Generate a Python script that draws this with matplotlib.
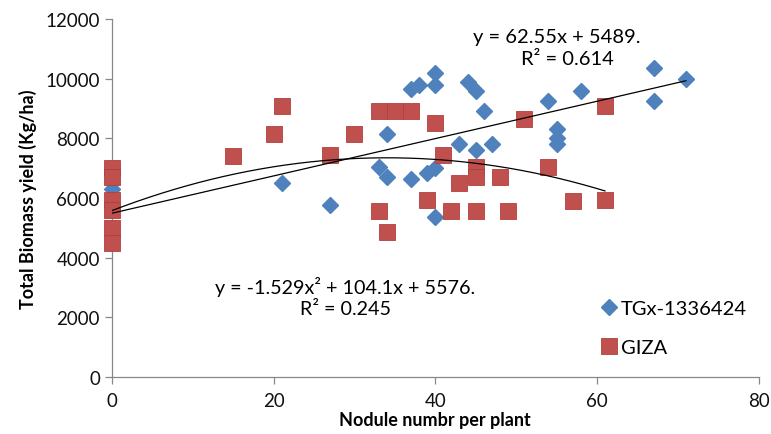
import numpy as np
import matplotlib
matplotlib.use("Agg")
import matplotlib.pyplot as plt

plt.rcParams['font.family'] = ['Lato', 'DejaVu Sans']

# TGx-1336424 observations
tgx_x = [0, 21, 27, 33, 34, 34, 37, 37, 38, 39, 40, 40, 40, 40, 43, 44, 45, 45,
         46, 47, 54, 55, 55, 55, 58, 67, 67, 71]
tgx_y = [6300, 6500, 5750, 7050, 8150, 6700, 6650, 9650, 9800, 6850, 7000, 5350,
         10200, 9800, 7800, 9900, 9600, 7600, 8900, 7800, 9250, 8300, 8000, 7800,
         9600, 10350, 9250, 10000]

# GIZA observations
giza_x = [0, 0, 0, 0, 0, 0, 15, 20, 21, 27, 30, 33, 35, 37, 33, 34, 39, 40, 41,
          42, 43, 45, 45, 45, 48, 49, 51, 54, 57, 61, 61]
giza_y = [7000, 6700, 5950, 5600, 5000, 4500, 7400, 8150, 9100, 7450, 8150, 8900,
          8900, 8900, 5550, 4850, 5950, 8500, 7450, 5550, 6500, 7050, 6700, 5550,
          6700, 5550, 8650, 7050, 5900, 9100, 5950]

# Trend line coefficients
lin_coef = [62.55, 5489]            # y = a x + b
poly_coef = [-1.529, 104.1, 5576]   # y = a x^2 + b x + c

x_ticks = [0, 20, 40, 60, 80]
y_ticks = [0, 2000, 4000, 6000, 8000, 10000, 12000]

blue = '#4F81BD'
red = '#C0504D'
axis_gray = '#888888'

fig = plt.figure(figsize=(7.71, 4.35), dpi=100)
ax = fig.add_axes([0.145, 0.131, 0.839, 0.823])

ax.plot(tgx_x, tgx_y, linestyle='none', marker='D', ms=8.6, color=blue,
        mec=blue, label='TGx-1336424', zorder=3, clip_on=False)
ax.plot(giza_x, giza_y, linestyle='none', marker='s', ms=11.5, color=red,
        mec='#B0403D', mew=0.6, label='GIZA', zorder=3, clip_on=False)

xl = np.linspace(0, max(tgx_x), 100)
ax.plot(xl, np.polyval(lin_coef, xl), color='black', lw=0.9, zorder=4)
xp = np.linspace(0, max(giza_x), 200)
ax.plot(xp, np.polyval(poly_coef, xp), color='black', lw=0.9, zorder=4)

ax.text(55.0, 11430, 'y = 62.55x + 5489.', ha='center', va='center', fontsize=14.5)
ax.text(56.3, 10690, 'R² = 0.614', ha='center', va='center', fontsize=14.5)
ax.text(28.9, 3050, 'y = -1.529x² + 104.1x + 5576.', ha='center', va='center', fontsize=14.2)
ax.text(28.9, 2310, 'R² = 0.245', ha='center', va='center', fontsize=14.2)

ax.set_xlim(0, 80)
ax.set_ylim(0, 12000)
ax.set_xticks(x_ticks)
ax.set_yticks(y_ticks)
ax.tick_params(axis='both', direction='out', length=5, width=0.9,
               color=axis_gray, labelsize=13.5, labelcolor='#111111')
ax.tick_params(axis='x', pad=6)

for side in ('top', 'right'):
    ax.spines[side].set_visible(False)
for side in ('left', 'bottom'):
    ax.spines[side].set_color(axis_gray)
    ax.spines[side].set_linewidth(0.9)

ax.set_xlabel('Nodule numbr per plant', fontsize=13, fontweight='bold', labelpad=1)
ax.set_ylabel('Total Biomass yield (Kg/ha)', fontsize=13, fontweight='bold', labelpad=6)

ax.legend(loc='upper left', bbox_to_anchor=(0.74, 0.238), frameon=False,
          fontsize=14.5, labelspacing=1.1, handletextpad=0.1, handlelength=1.0,
          borderaxespad=0)

fig.savefig('out.png', dpi=100)
